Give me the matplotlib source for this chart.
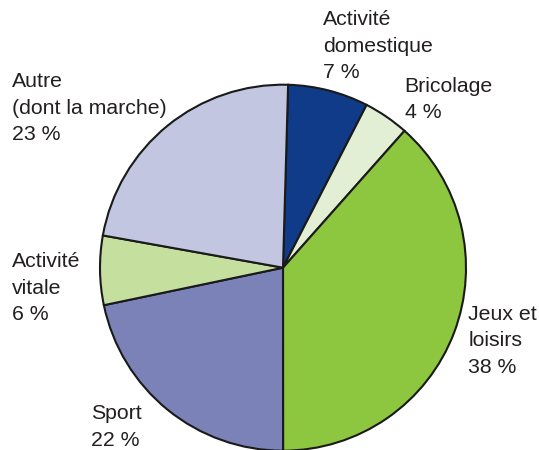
import matplotlib
matplotlib.use("Agg")
import matplotlib.pyplot as plt

categories = ["Activité\ndomestique", "Bricolage", "Jeux et\nloisirs", "Sport",
              "Activité\nvitale", "Autre\n(dont la marche)"]
values = [7.1, 4.0, 38.4, 21.7, 6.1, 22.6]
colors = ["#0F3B89", "#E2EFD5", "#8DC63F", "#7A82B8", "#C5DF9E", "#C2C6E0"]

# label anchor positions (pixel coords, top-left of the text block)
label_pos = [(322.7, 10), (404.7, 77), (468.3, 305), (90.7, 404), (11.7, 252), (11.7, 72)]

W, H = 539, 450
fig = plt.figure(figsize=(W / 100, H / 100), dpi=100)
ax = fig.add_axes([0, 0, 1, 1])

cx, cy, r = 283.0, H - 267.7, 183.0
ax.pie(values, colors=colors, startangle=90 - 1.6, counterclock=False,
       center=(cx, cy), radius=r,
       wedgeprops=dict(edgecolor="#1a1a1a", linewidth=1.5), frame=True)
ax.set_xlim(0, W)
ax.set_ylim(0, H)
ax.set_aspect("equal")
ax.axis("off")

for cat, v, (x, y) in zip(categories, values, label_pos):
    ax.text(x, H - y, f"{cat}\n{round(v)} %", ha="left", va="top",
            fontsize=15.3, family="Liberation Sans", color="#231f20",
            linespacing=1.5)

fig.savefig("out.png", dpi=100)
